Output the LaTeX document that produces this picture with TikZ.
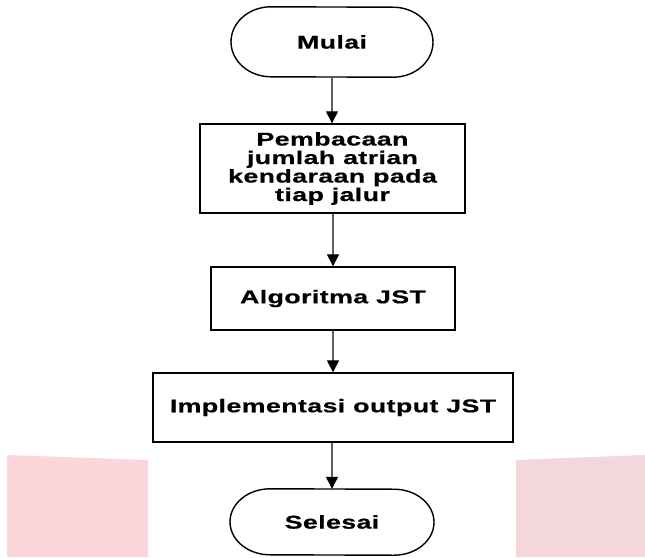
\documentclass[tikz,border=0pt]{standalone}
\usepackage{fontspec}
\setmainfont{Liberation Sans}[FakeStretch=1.45,LetterSpace=2,FakeBold=0.5]
\usetikzlibrary{arrows.meta}
\definecolor{pinkL}{RGB}{253,214,219}
\definecolor{pinkR}{RGB}{244,215,220}
\definecolor{linegray}{RGB}{95,95,95}
\tikzset{
  lbl/.style={font=\bfseries\fontsize{18.5}{18.5}\selectfont, align=center, inner sep=0pt},
  term/.style={lbl},
  procbox/.style={lbl, draw=black, line width=1.4pt},
  termline/.style={draw=black, line width=1.4pt},
  conn/.style={draw=linegray, line width=1.3pt, -{Triangle[width=12pt,length=12pt,color=black]}}
}
\begin{document}
\begin{tikzpicture}[x=1pt,y=-1pt]
\useasboundingbox (0,0) rectangle (645,557);
\fill[white] (0,0) rectangle (645,557);
% background watermark fragments
\fill[pinkL] (7,455) -- (148,460) -- (148,557) -- (7,557) -- cycle;
\fill[pinkR] (516,460) -- (645,455) -- (645,557) -- (516,557) -- cycle;

\node[term, minimum width=202pt, minimum height=70pt] (start) at (332,42) {Mulai};
\draw[termline] ([xshift=-61pt]start.north) arc[start angle=90,end angle=270,x radius=40pt,y radius=35pt]
  -- ([xshift=61pt]start.south) arc[start angle=-90,end angle=90,x radius=40pt,y radius=35pt] -- cycle;

\node[procbox, minimum width=265pt, minimum height=89pt] (read) at (332.5,168.5)
  {Pembacaan\\jumlah atrian\\kendaraan pada\\tiap jalur};
\node[procbox, minimum width=244pt, minimum height=63pt] (algo) at (333,298.5) {Algoritma JST};
\node[procbox, minimum width=360pt, minimum height=69pt] (impl) at (333,407.5) {Implementasi output JST};

\node[term, minimum width=204pt, minimum height=66pt] (stop) at (332,522) {Selesai};
\draw[termline] ([xshift=-62pt]stop.north) arc[start angle=90,end angle=270,x radius=40pt,y radius=33pt]
  -- ([xshift=62pt]stop.south) arc[start angle=-90,end angle=90,x radius=40pt,y radius=33pt] -- cycle;

\draw[conn] (start.south) -- (start.south |- read.north);
\draw[conn] (read.south -| algo.north) -- (algo.north);
\draw[conn] (algo.south) -- (impl.north);
\draw[conn] (impl.south -| stop.north) -- (stop.north);
\end{tikzpicture}
\end{document}
